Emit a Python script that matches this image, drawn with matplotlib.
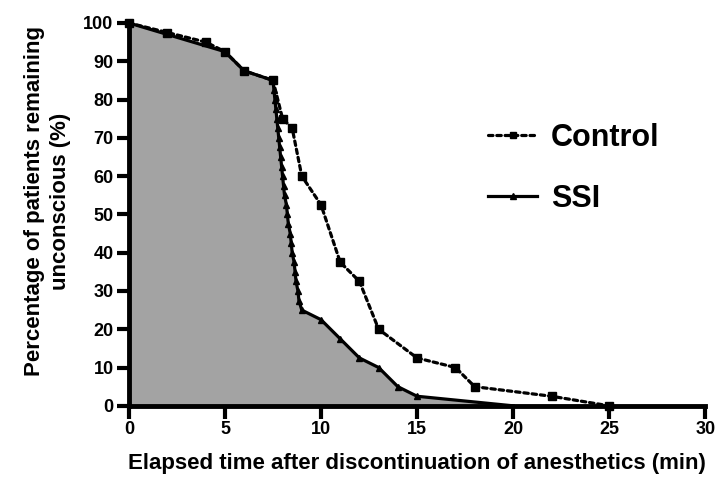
import matplotlib
matplotlib.use("Agg")
import matplotlib.pyplot as plt

plt.rcParams['font.family'] = ['Liberation Sans', 'DejaVu Sans']
plt.rcParams['font.weight'] = 'bold'

# time (min) and % of patients still unconscious
control_t = [0, 2, 4, 5, 6, 7.5, 8, 8.5, 9, 10, 11, 12, 13, 15, 17, 18, 22, 25]
control_pct = [100, 97.5, 95, 92.5, 87.5, 85, 75, 72.5, 60, 52.5, 37.5, 32.5, 20, 12.5, 10, 5, 2.5, 0]

ssi_t = [0, 5, 6, 7.5, 7.55, 7.6, 7.65, 7.7, 7.75, 7.8, 7.85, 7.9, 7.95, 8.0, 8.05,
         8.1, 8.2, 8.25, 8.3, 8.4, 8.45, 8.5, 8.6, 8.65, 8.7, 8.8, 8.85, 9.0,
         10, 11, 12, 13, 14, 15, 20]
ssi_pct = [100, 92.5, 87.5, 85, 82.5, 80, 77.5, 75, 72.5, 70, 67.5, 65, 62.5, 60, 57.5,
           55, 52.5, 50, 47.5, 45, 42.5, 40, 37.5, 35, 32.5, 30, 27.5, 25,
           22.5, 17.5, 12.5, 10, 5, 2.5, 0]

fig = plt.figure(figsize=(7.16, 4.78), dpi=100)
ax = fig.add_axes([0.180, 0.151, 0.805, 0.801])

ax.fill_between(ssi_t, ssi_pct, 0, color='#a3a3a3', lw=0, zorder=1)
ax.plot(control_t, control_pct, color='black', ls=(0, (1.4, 1.2)), lw=2.3,
        dash_capstyle='round', marker='s', ms=5.5, label='Control', clip_on=False, zorder=3)
ax.plot(ssi_t, ssi_pct, color='black', ls='-', lw=2.3, marker='^', ms=5,
        markevery=list(range(len(ssi_t) - 1)), label='SSI', clip_on=False, zorder=4)

ax.set_xlim(0, 30)
ax.set_ylim(0, 100)
ax.set_xticks(range(0, 31, 5))
ax.set_yticks(range(0, 101, 10))

for s in ['top', 'right']:
    ax.spines[s].set_visible(False)
for s in ['left', 'bottom']:
    ax.spines[s].set_linewidth(3.5)
    ax.spines[s].set_capstyle('projecting')
ax.tick_params(direction='out', length=9, width=3, labelsize=13, pad=2)
for lab in ax.get_xticklabels() + ax.get_yticklabels():
    lab.set_fontweight('bold')

ax.set_xlabel('Elapsed time after discontinuation of anesthetics (min)',
              fontsize=16, fontweight='bold', labelpad=11)
ax.set_ylabel('Percentage of patients remaining\nunconscious (%)',
              fontsize=16, fontweight='bold', labelpad=9, linespacing=1.3)
ax.yaxis.label.set_y(0.534)

leg = fig.legend(loc='center left', bbox_to_anchor=(0.682, 0.648), frameon=False,
                 prop={'size': 22, 'weight': 'bold'}, handlelength=1.6,
                 handletextpad=0.45, labelspacing=1.0, borderpad=0, borderaxespad=0)
for h in leg.get_lines():
    h.set_markersize(5)

fig.savefig('out.png', dpi=100)
